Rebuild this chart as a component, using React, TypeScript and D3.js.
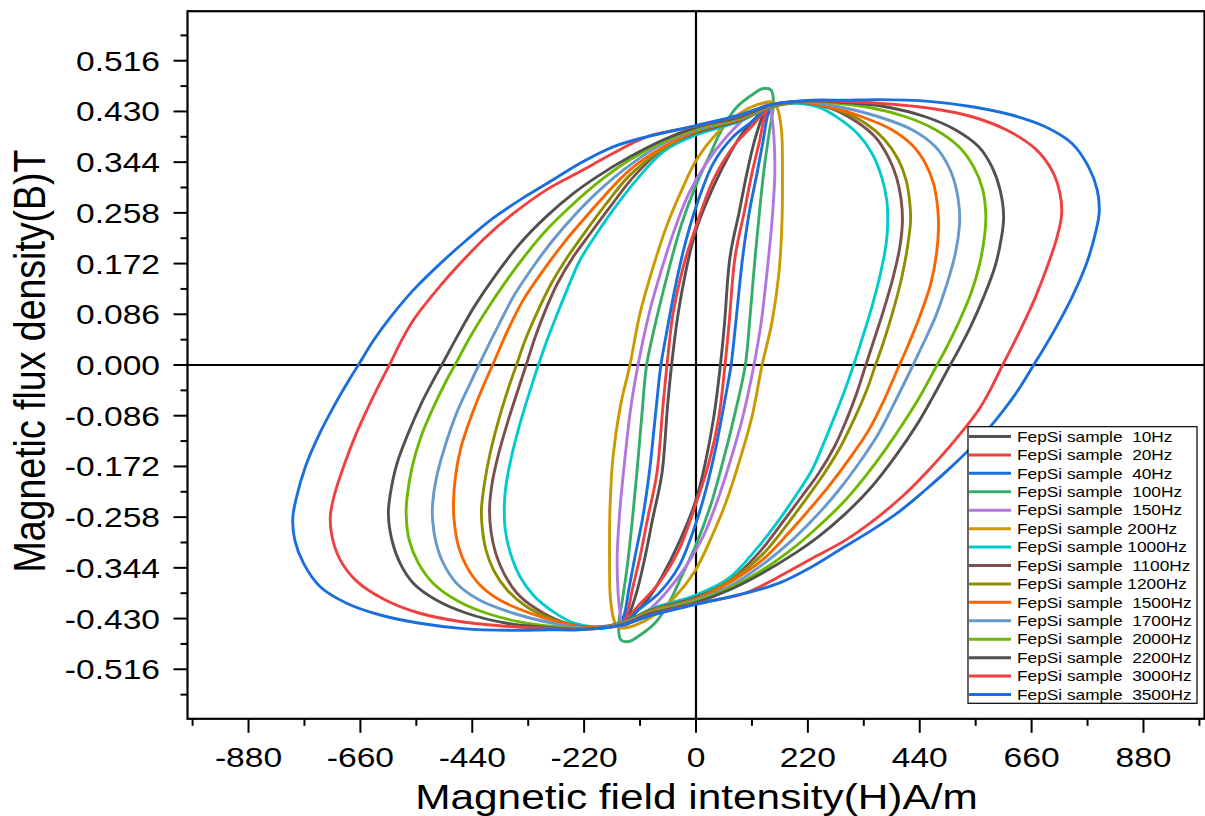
import React from 'react';
import * as d3 from 'd3';

type Pt = [number, number];

// Each array is the descending (left) branch of one B-H loop, [H (A/m), B (T)],
// read from the figure; the ascending branch is its point reflection (-H, -B).
const loop10Hz: Pt[] = [[140,0.438],[93,0.395],[67,0.359],[34,0.302],[0,0.229],[-18,0.167],[-35,0.088],[-48,0],[-56,-0.07],[-67,-0.184],[-85,-0.26],[-100,-0.325],[-115,-0.38],[-130,-0.42],[-140,-0.438]];
const loop20Hz: Pt[] = [[146,0.44],[113,0.408],[73,0.37],[34,0.314],[0,0.235],[-25,0.167],[-45,0.088],[-57,0],[-65,-0.07],[-77,-0.184],[-95,-0.26],[-110,-0.325],[-125,-0.38],[-135,-0.42],[-146,-0.44]];
const loop40Hz: Pt[] = [[150,0.445],[113,0.415],[73,0.387],[34,0.342],[0,0.268],[-20,0.21],[-38,0.144],[-58,0.054],[-69,0],[-78,-0.07],[-92,-0.184],[-105,-0.26],[-120,-0.325],[-132,-0.38],[-140,-0.42],[-150,-0.445]];
const loop100Hz: Pt[] = [[148,0.466],[132,0.469],[110,0.458],[80,0.437],[50,0.398],[25,0.352],[0,0.305],[-28,0.24],[-52,0.167],[-75,0.088],[-97,0],[-106,-0.08],[-116,-0.18],[-126,-0.27],[-135,-0.34],[-145,-0.4],[-152,-0.44],[-148,-0.466]];
const loop150Hz: Pt[] = [[145,0.445],[132,0.438],[100,0.421],[60,0.387],[20,0.342],[-14,0.291],[-40,0.235],[-66,0.167],[-92,0.088],[-114,0],[-128,-0.071],[-140,-0.16],[-150,-0.25],[-155,-0.325],[-153,-0.39],[-148,-0.43],[-145,-0.445]];
const loop200Hz: Pt[] = [[150,0.446],[119,0.441],[87,0.427],[41,0.393],[1,0.348],[-31,0.291],[-58,0.235],[-84,0.167],[-110,0.088],[-130,0],[-149,-0.071],[-163,-0.155],[-169,-0.24],[-170,-0.325],[-168,-0.399],[-159,-0.438],[-150,-0.446]];
const loop1000Hz: Pt[] = [[195,0.444],[140,0.435],[86,0.413],[0,0.39],[-64,0.362],[-117,0.314],[-163,0.263],[-195,0.223],[-228,0.178],[-251,0.133],[-275,0.082],[-293,0.042],[-310,0],[-324,-0.037],[-346,-0.099],[-363,-0.156],[-374,-0.206],[-377,-0.24],[-375,-0.28],[-365,-0.319],[-346,-0.359],[-318,-0.392],[-278,-0.42],[-242,-0.437],[-195,-0.444]];
const loop1100Hz: Pt[] = [[200,0.445],[145,0.437],[86,0.415],[0,0.394],[-64,0.367],[-123,0.319],[-169,0.268],[-208,0.223],[-241,0.184],[-272,0.139],[-296,0.093],[-316,0.048],[-334,0],[-348,-0.037],[-369,-0.093],[-388,-0.15],[-401,-0.201],[-406,-0.245],[-403,-0.283],[-394,-0.319],[-378,-0.353],[-352,-0.387],[-315,-0.413],[-262,-0.436],[-200,-0.445]];
const loop1200Hz: Pt[] = [[205,0.446],[148,0.438],[86,0.416],[0,0.396],[-64,0.367],[-130,0.322],[-176,0.274],[-215,0.229],[-252,0.184],[-284,0.139],[-313,0.088],[-336,0.042],[-353,0],[-368,-0.037],[-388,-0.093],[-405,-0.15],[-416,-0.201],[-422,-0.245],[-420,-0.279],[-413,-0.314],[-398,-0.348],[-371,-0.382],[-333,-0.41],[-277,-0.433],[-205,-0.446]];
const loop1500Hz: Pt[] = [[205,0.446],[150,0.44],[86,0.418],[0,0.398],[-64,0.37],[-130,0.331],[-182,0.285],[-228,0.24],[-261,0.206],[-300,0.161],[-340,0.11],[-370,0.059],[-400,0],[-416,-0.031],[-442,-0.087],[-462,-0.139],[-473,-0.189],[-477,-0.235],[-475,-0.269],[-467,-0.308],[-451,-0.342],[-425,-0.373],[-385,-0.399],[-326,-0.421],[-262,-0.438],[-205,-0.446]];
const loop1700Hz: Pt[] = [[210,0.447],[150,0.44],[86,0.419],[0,0.399],[-64,0.376],[-130,0.339],[-189,0.297],[-241,0.252],[-281,0.212],[-320,0.167],[-359,0.116],[-388,0.068],[-427,0],[-444,-0.031],[-471,-0.082],[-494,-0.139],[-510,-0.189],[-518,-0.235],[-518,-0.263],[-511,-0.302],[-497,-0.336],[-471,-0.37],[-425,-0.399],[-359,-0.421],[-281,-0.438],[-210,-0.447]];
const loop2000Hz: Pt[] = [[215,0.447],[150,0.441],[86,0.42],[0,0.401],[-64,0.379],[-130,0.348],[-195,0.308],[-248,0.268],[-294,0.229],[-333,0.189],[-372,0.144],[-412,0.093],[-444,0.048],[-474,0],[-490,-0.025],[-516,-0.071],[-541,-0.122],[-558,-0.172],[-568,-0.223],[-570,-0.252],[-564,-0.297],[-546,-0.336],[-517,-0.37],[-471,-0.399],[-412,-0.421],[-333,-0.438],[-261,-0.445],[-215,-0.447]];
const loop2200Hz: Pt[] = [[220,0.448],[150,0.441],[86,0.421],[0,0.403],[-64,0.382],[-130,0.353],[-195,0.319],[-241,0.291],[-294,0.252],[-346,0.206],[-392,0.155],[-436,0.099],[-466,0.054],[-500,0],[-516,-0.025],[-540,-0.065],[-566,-0.116],[-588,-0.167],[-601,-0.218],[-605,-0.252],[-598,-0.297],[-582,-0.336],[-556,-0.37],[-510,-0.399],[-451,-0.421],[-372,-0.438],[-294,-0.445],[-220,-0.448]];
const loop3000Hz: Pt[] = [[225,0.448],[150,0.442],[86,0.423],[0,0.405],[-97,0.387],[-163,0.359],[-228,0.328],[-294,0.297],[-359,0.257],[-412,0.218],[-464,0.172],[-510,0.127],[-556,0.076],[-580,0.04],[-603,0],[-618,-0.025],[-641,-0.065],[-668,-0.116],[-693,-0.172],[-711,-0.22],[-719,-0.255],[-716,-0.29],[-700,-0.33],[-668,-0.366],[-612,-0.398],[-543,-0.421],[-464,-0.435],[-359,-0.444],[-285,-0.447],[-225,-0.448]];
const loop3500Hz: Pt[] = [[230,0.449],[150,0.442],[86,0.424],[0,0.406],[-97,0.387],[-163,0.37],[-228,0.342],[-281,0.314],[-346,0.28],[-399,0.249],[-451,0.212],[-503,0.172],[-556,0.127],[-600,0.082],[-634,0.042],[-664,0],[-682,-0.025],[-709,-0.065],[-740,-0.116],[-768,-0.172],[-787,-0.229],[-793,-0.26],[-789,-0.297],[-772,-0.336],[-739,-0.376],[-687,-0.404],[-621,-0.424],[-543,-0.438],[-458,-0.447],[-359,-0.45],[-290,-0.449],[-230,-0.449]];

const seriesLabels = [
  'FepSi sample  10Hz', 'FepSi sample  20Hz', 'FepSi sample  40Hz', 'FepSi sample  100Hz',
  'FepSi sample  150Hz', 'FepSi sample 200Hz', 'FepSi sample 1000Hz', 'FepSi sample  1100Hz',
  'FepSi sample 1200Hz', 'FepSi sample  1500Hz', 'FepSi sample  1700Hz', 'FepSi sample  2000Hz',
  'FepSi sample  2200Hz', 'FepSi sample  3000Hz', 'FepSi sample  3500Hz',
];
const seriesColors = [
  '#515151', '#F14040', '#1A6FDF', '#37AD6B', '#B177DE', '#CC9900', '#00CBCC', '#7D4E4E',
  '#8E8E00', '#FB6501', '#6699CC', '#6FB802', '#515151', '#F14040', '#1A6FDF',
];
const seriesLoops = [
  loop10Hz, loop20Hz, loop40Hz, loop100Hz, loop150Hz, loop200Hz, loop1000Hz, loop1100Hz,
  loop1200Hz, loop1500Hz, loop1700Hz, loop2000Hz, loop2200Hz, loop3000Hz, loop3500Hz,
];

const xMajorTicks = [-880, -660, -440, -220, 0, 220, 440, 660, 880];
const xMinorTicks = [-990, -770, -550, -330, -110, 110, 330, 550, 770, 990];
const yMajorTicks = [-0.516, -0.43, -0.344, -0.258, -0.172, -0.086, 0, 0.086, 0.172, 0.258, 0.344, 0.43, 0.516];
const yMinorTicks = [-0.559, -0.473, -0.387, -0.301, -0.215, -0.129, -0.043, 0.043, 0.129, 0.215, 0.301, 0.387, 0.473, 0.559];

const FONT = '"Liberation Sans", Arial, Helvetica, sans-serif';
const SX = 1.2; // horizontal stretch of the original figure's glyphs

export default function App() {
  const W = 1205;
  const H = 816;
  const x = d3.scaleLinear().domain([-1000, 1000]).range([187.5, 1204.5]);
  const y = d3.scaleLinear().domain([-0.6, 0.6]).range([718.8, 11.2]);
  const line = d3
    .line<Pt>()
    .x((d) => x(d[0]))
    .y((d) => y(d[1]))
    .curve(d3.curveCatmullRomClosed.alpha(0.5));

  const fullLoop = (half: Pt[]): Pt[] =>
    half.concat(half.slice(1, -1).map(([h, b]) => [-h, -b] as Pt));

  const left = x(-1000);
  const right = x(1000);
  const top = y(0.6);
  const bottom = y(-0.6);

  const legX = 968;
  const legY0 = 436.5;
  const legDy = 18.43;

  return (
    <svg width={W} height={H} style={{ position: 'absolute', left: 0, top: 0, background: '#fff' }}>
      <rect x={0} y={0} width={W} height={H} fill="#fff" />
      <defs>
        <clipPath id="plotClip">
          <rect x={left} y={top} width={right - left} height={bottom - top} />
        </clipPath>
      </defs>

      {/* zero lines */}
      <line x1={x(0)} x2={x(0)} y1={top} y2={bottom} stroke="#000" strokeWidth={2.2} />
      <line x1={left} x2={right} y1={y(0)} y2={y(0)} stroke="#000" strokeWidth={2.2} />

      {/* loops */}
      <g clipPath="url(#plotClip)">
        {seriesLoops.map((half, i) => (
          <path
            key={i}
            d={line(fullLoop(half)) || ''}
            fill="none"
            stroke={seriesColors[i]}
            strokeWidth={2.9}
            strokeLinejoin="round"
          />
        ))}
      </g>

      {/* frame */}
      <rect x={left} y={top} width={right - left} height={bottom - top} fill="none" stroke="#000" strokeWidth={2.2} />

      {/* y ticks */}
      {yMajorTicks.map((t) => (
        <g key={'ym' + t}>
          <line x1={left - 14} x2={left} y1={y(t)} y2={y(t)} stroke="#000" strokeWidth={2} />
          <text
            transform={`translate(${160},${y(t) + 10}) scale(${SX},1)`}
            textAnchor="end"
            fontFamily={FONT}
            fontSize={28}
            fill="#000"
          >
            {t.toFixed(3)}
          </text>
        </g>
      ))}
      {yMinorTicks.map((t) => (
        <line key={'yn' + t} x1={left - 7} x2={left} y1={y(t)} y2={y(t)} stroke="#000" strokeWidth={2} />
      ))}

      {/* x ticks */}
      {xMajorTicks.map((t) => (
        <g key={'xm' + t}>
          <line x1={x(t)} x2={x(t)} y1={bottom} y2={bottom + 14} stroke="#000" strokeWidth={2} />
          <text
            transform={`translate(${x(t)},${767}) scale(${SX},1)`}
            textAnchor="middle"
            fontFamily={FONT}
            fontSize={28}
            fill="#000"
          >
            {String(t)}
          </text>
        </g>
      ))}
      {xMinorTicks.map((t) => (
        <line key={'xn' + t} x1={x(t)} x2={x(t)} y1={bottom} y2={bottom + 7} stroke="#000" strokeWidth={2} />
      ))}

      {/* axis titles */}
      <text
        transform={`translate(${696.5},${809}) scale(${SX},1)`}
        textAnchor="middle"
        fontFamily={FONT}
        fontSize={35.3}
        fill="#000"
      >
        Magnetic field intensity(H)A/m
      </text>
      <text
        transform={`translate(${45},${361}) scale(${SX},1) rotate(-90)`}
        textAnchor="middle"
        fontFamily={FONT}
        fontSize={37.5}
        fill="#000"
      >
        Magnetic flux density(B)T
      </text>

      {/* legend */}
      <rect x={legX} y={426.7} width={229} height={276.6} fill="#fff" stroke="#000" strokeWidth={1.2} />
      {seriesLabels.map((lab, i) => {
        const cy = legY0 + i * legDy;
        return (
          <g key={'lg' + i}>
            <line x1={legX + 1} x2={legX + 43} y1={cy} y2={cy} stroke={seriesColors[i]} strokeWidth={3} />
            <text
              transform={`translate(${1017},${cy + 5.2}) scale(${SX},1)`}
              fontFamily={FONT}
              fontSize={14.4}
              fill="#000"
              style={{ whiteSpace: 'pre' }}
            >
              {lab}
            </text>
          </g>
        );
      })}
    </svg>
  );
}
